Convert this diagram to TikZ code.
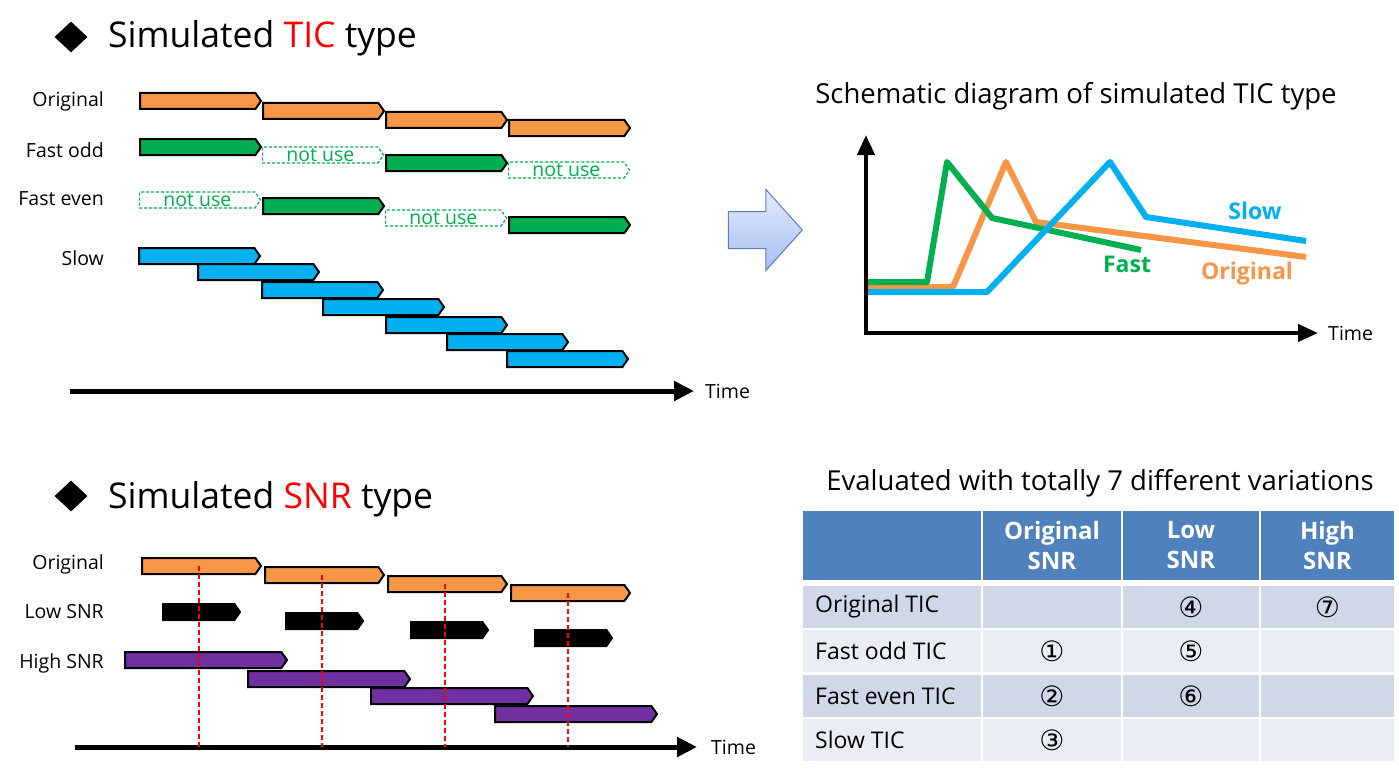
\documentclass[tikz,border=0pt]{standalone}
\usepackage{fontspec}
\setmainfont{Open Sans}
\newfontfamily\circfont{DejaVu Sans}
\usetikzlibrary{shapes.symbols,shapes.arrows,shapes.geometric,arrows.meta,positioning}
\definecolor{ticOrange}{HTML}{F79646}
\definecolor{ticGreen}{HTML}{00B050}
\definecolor{ticBlue}{HTML}{00B0F0}
\definecolor{ticPurple}{HTML}{7030A0}
\definecolor{headBlue}{HTML}{4F81BD}
\definecolor{rowDark}{HTML}{D0D8E8}
\definecolor{rowLight}{HTML}{E9EDF4}
\definecolor{arrowEdge}{HTML}{5A7EC0}
\definecolor{arrowTop}{HTML}{E4ECFC}
\definecolor{arrowBottom}{HTML}{A4BEF2}
\newcommand{\fsz}[1]{\fontsize{#1}{#1}\selectfont}
\begin{document}
\begin{tikzpicture}
[x=1pt,y=-1pt,
  barShape/.style={shape=signal,signal to=east,signal pointer angle=110,inner sep=0pt,minimum height=16pt,line width=2pt,anchor=west},
  barOrange/.style={barShape,draw=black,fill=ticOrange,minimum width=121pt},
  barGreen/.style={barShape,draw=black,fill=ticGreen,minimum width=121pt},
  barUnused/.style={barShape,draw=ticGreen,dash pattern=on 3pt off 2pt,line width=1.2pt,fill=white,text=ticGreen,minimum width=121pt,font=\fsz{19.5}},
  barBlue/.style={barShape,draw=black,fill=ticBlue,minimum width=121pt},
  barSignal/.style={barShape,draw=black,fill=ticOrange,minimum width=119pt},
  barBlack/.style={barShape,draw=black,fill=black,minimum width=77pt},
  barPurple/.style={barShape,draw=black,fill=ticPurple,minimum width=162pt},
  rowLabel/.style={anchor=east,inner sep=0pt,font=\fsz{19.5}},
  titleText/.style={anchor=base west,inner sep=0pt,font=\fsz{35.5}},
  titleMark/.style={shape=diamond,fill=black,inner sep=0pt,minimum width=33pt,minimum height=31pt},
  timeAxis/.style={line width=5pt,-{Triangle[length=20pt,width=19pt]}},
  timeText/.style={inner sep=0pt,font=\fsz{19.5}},
  chartAxis/.style={line width=4pt,{Triangle[length=20pt,width=17pt]}-{Triangle[length=20pt,width=17pt]}},
  ticCurve/.style={line width=6pt,line join=round},
  curveLabel/.style={inner sep=0pt,font=\bfseries\fsz{23}},
  headCell/.style={draw=white,line width=2pt,fill=headBlue,minimum height=71pt,text=white,align=center,font=\bfseries\fontsize{24}{30}\selectfont,inner sep=0pt},
  bodyCell/.style={draw=white,line width=2pt,minimum height=44pt,inner sep=0pt,font=\circfont\fsz{28}},
  bodyText/.style={anchor=west,inner sep=0pt,font=\fsz{23}}]
\useasboundingbox (0,0) rectangle (1399,773);
%% headings
\node (mark1) at (71,37) [titleMark] {};
\node (title1) at (108,48) [titleText] {Simulated \textcolor{red}{TIC} type};
\node (mark2) at (71,496) [titleMark] {};
\node (title2) at (108,508) [titleText] {Simulated \textcolor{red}{SNR} type};
%% simulated TIC type bars
\foreach \nodename/\x/\y in {o1/139/101, o2/262/111, o3/385/120, o4/508/128}
{
  \node (\nodename) at (\x,\y) [barOrange] {};
}
\foreach \nodename/\x/\y in {f1/139/147, f3/385/163, e2/262/206, e4/508/225}
{
  \node (\nodename) at (\x,\y) [barGreen] {};
}
\foreach \nodename/\x/\y in {f2/262/155, f4/508/170, e1/139/200, e3/385/218}
{
  \node (\nodename) at (\x,\y) [barUnused] {not use};
}
\foreach \nodename/\x/\y in {s1/138/256, s2/197/272, s3/261/290, s4/322/307, s5/385/325, s6/446/342, s7/506/359}
{
  \node (\nodename) at (\x,\y) [barBlue] {};
}
\foreach \nodename/\y/\txt in {lOrig/101/Original, lOdd/150/Fast odd, lEven/199/Fast even, lSlow/258/Slow}
{
  \node (\nodename) at (104,\y) [rowLabel] {\txt};
}
\coordinate (tStart) at (70,391);
\coordinate (tEnd) at (694,391);
\draw[timeAxis] (tStart) -- (tEnd);
\node (tTime) [timeText,right=11pt of tEnd] {Time};
%% block arrow
\node (goArrow) at (757,230) [shape=single arrow,draw=arrowEdge,line width=1pt,top color=arrowTop,bottom color=arrowBottom,minimum height=74pt,inner xsep=0pt,inner ysep=18pt,single arrow head extend=22pt,single arrow tip angle=96] {};
%% schematic diagram
\node (chartTitle) at (1076,96) [inner sep=0pt,font=\fsz{27.5}] {Schematic diagram of simulated TIC type};
\coordinate (yTip) at (866,135);
\coordinate (origin) at (866,333);
\coordinate (xTip) at (1318,333);
\draw[chartAxis] (yTip) -- (origin) -- (xTip);
\node (cTime) [timeText,right=10pt of xTip] {Time};
\draw[ticCurve,ticOrange] (868,287) -- (953,287) -- (1006,162) -- (1036,222) -- (1306,257);
\draw[ticCurve,ticGreen] (868,282) -- (927,282) -- (947,162) -- (992,218) -- (1141,250);
\draw[ticCurve,ticBlue] (868,292) -- (987,292) -- (1110,162) -- (1146,217) -- (1306,241);
\node (cSlow) at (1255,211) [curveLabel,text=ticBlue] {Slow};
\node (cFast) at (1127,264) [curveLabel,text=ticGreen] {Fast};
\node (cOrig) at (1247,274) [curveLabel,text=ticOrange] {Original};
%% simulated SNR type bars
\foreach \nodename/\x/\y in {n1/162/612, n2/285/621, n3/410/630, n4/534/638}
{
  \node (\nodename) at (\x,\y) [barBlack] {};
}
\foreach \nodename/\x/\y in {h1/124/660, h2/247/679, h3/370/696, h4/494/714}
{
  \node (\nodename) at (\x,\y) [barPurple] {};
}
\foreach \nodename/\x/\y in {g1/141/566, g2/264/575, g3/387/584, g4/510/593}
{
  \node (\nodename) at (\x,\y) [barSignal] {};
}
\foreach \nodename/\y/\txt in {mOrig/564/Original, mLow/612/Low SNR, mHigh/663/High SNR}
{
  \node (\nodename) at (104,\y) [rowLabel] {\txt};
}
\coordinate (bStart) at (75,747);
\coordinate (bEnd) at (697,747);
\draw[timeAxis] (bStart) -- (bEnd);
\node (bTime) [timeText,right=14pt of bEnd] {Time};
\foreach \nodename in {g1,g2,g3,g4}
{
  \draw[red,dash pattern=on 5pt off 3pt,line width=1.6pt] (\nodename.center) -- (\nodename.center |- bStart);
}
%% evaluation table
\node (tableTitle) at (1100,483) [inner sep=0pt,font=\fsz{27.5}] {Evaluated with totally 7 different variations};
\foreach \col/\x/\w/\txt in {0/892/180/{}, 1/1052/140/{Original\\SNR}, 2/1191/138/{Low\\SNR}, 3/1327.5/135/{High\\SNR}}
{
  \node (head\col) at (\x,545.5) [headCell,minimum width=\w pt] {\txt};
}
\foreach \row/\y/\shade/\name/\a/\b/\c in {1/607/rowDark/Original TIC//④/⑦, 2/651/rowLight/Fast odd TIC/①/⑤/, 3/696/rowDark/Fast even TIC/②/⑥/, 4/740/rowLight/Slow TIC/③//}
{
  \node (cell\row0) at (892,\y) [bodyCell,fill=\shade,minimum width=180pt] {};
  \node (cell\row1) at (1052,\y) [bodyCell,fill=\shade,minimum width=140pt] {\a};
  \node (cell\row2) at (1191,\y) [bodyCell,fill=\shade,minimum width=138pt] {\b};
  \node (cell\row3) at (1327.5,\y) [bodyCell,fill=\shade,minimum width=135pt] {\c};
  \node (text\row) [bodyText,right=14pt of cell\row0.west] {\name};
}
\end{tikzpicture}
\end{document}
